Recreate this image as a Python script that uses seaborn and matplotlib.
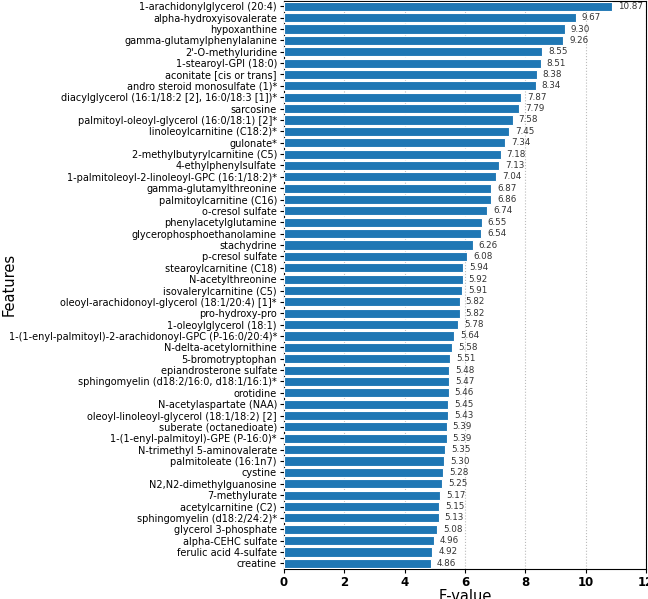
import matplotlib
matplotlib.use("Agg")
import matplotlib.pyplot as plt
import seaborn as sns
import pandas as pd

features = [
    "1-arachidonylglycerol (20:4)",
    "alpha-hydroxyisovalerate",
    "hypoxanthine",
    "gamma-glutamylphenylalanine",
    "2'-O-methyluridine",
    "1-stearoyl-GPI (18:0)",
    "aconitate [cis or trans]",
    "andro steroid monosulfate (1)*",
    "diacylglycerol (16:1/18:2 [2], 16:0/18:3 [1])*",
    "sarcosine",
    "palmitoyl-oleoyl-glycerol (16:0/18:1) [2]*",
    "linoleoylcarnitine (C18:2)*",
    "gulonate*",
    "2-methylbutyrylcarnitine (C5)",
    "4-ethylphenylsulfate",
    "1-palmitoleoyl-2-linoleoyl-GPC (16:1/18:2)*",
    "gamma-glutamylthreonine",
    "palmitoylcarnitine (C16)",
    "o-cresol sulfate",
    "phenylacetylglutamine",
    "glycerophosphoethanolamine",
    "stachydrine",
    "p-cresol sulfate",
    "stearoylcarnitine (C18)",
    "N-acetylthreonine",
    "isovalerylcarnitine (C5)",
    "oleoyl-arachidonoyl-glycerol (18:1/20:4) [1]*",
    "pro-hydroxy-pro",
    "1-oleoylglycerol (18:1)",
    "1-(1-enyl-palmitoyl)-2-arachidonoyl-GPC (P-16:0/20:4)*",
    "N-delta-acetylornithine",
    "5-bromotryptophan",
    "epiandrosterone sulfate",
    "sphingomyelin (d18:2/16:0, d18:1/16:1)*",
    "orotidine",
    "N-acetylaspartate (NAA)",
    "oleoyl-linoleoyl-glycerol (18:1/18:2) [2]",
    "suberate (octanedioate)",
    "1-(1-enyl-palmitoyl)-GPE (P-16:0)*",
    "N-trimethyl 5-aminovalerate",
    "palmitoleate (16:1n7)",
    "cystine",
    "N2,N2-dimethylguanosine",
    "7-methylurate",
    "acetylcarnitine (C2)",
    "sphingomyelin (d18:2/24:2)*",
    "glycerol 3-phosphate",
    "alpha-CEHC sulfate",
    "ferulic acid 4-sulfate",
    "creatine",
]

f_values = [
    10.87, 9.67, 9.30, 9.26, 8.55, 8.51, 8.38, 8.34, 7.87, 7.79,
    7.58, 7.45, 7.34, 7.18, 7.13, 7.04, 6.87, 6.86, 6.74, 6.55,
    6.54, 6.26, 6.08, 5.94, 5.92, 5.91, 5.82, 5.82, 5.78, 5.64,
    5.58, 5.51, 5.48, 5.47, 5.46, 5.45, 5.43, 5.39, 5.39, 5.35,
    5.30, 5.28, 5.25, 5.17, 5.15, 5.13, 5.08, 4.96, 4.92, 4.86,
]

x_ticks = [0, 2, 4, 6, 8, 10, 12]

df = pd.DataFrame({"Features": features, "F-value": f_values})

fig = plt.figure(figsize=(6.48, 5.99), dpi=100)
ax = fig.add_axes([0.438, 0.050, 0.559, 0.949])

sns.barplot(data=df, x="F-value", y="Features", color="#1f77b4",
            saturation=1, edgecolor="white", linewidth=0.8, ax=ax, zorder=3)

for i, v in enumerate(f_values):
    ax.text(v + 0.2, i, f"{v:.2f}", va="center", ha="left",
            fontsize=6.3, color="#333333", zorder=4)

ax.set_xlim(0, 12)
ax.set_xticks(x_ticks)
ax.set_xticklabels([str(t) for t in x_ticks], fontsize=8.5, fontweight="bold")
ax.tick_params(axis="y", labelsize=7.0, length=3, pad=2)
ax.tick_params(axis="x", length=3, pad=2)
ax.grid(axis="x", linestyle=":", color="#bbbbbb", linewidth=0.8, zorder=0)
ax.set_axisbelow(True)
ax.set_xlabel("F-value", fontsize=10.5, labelpad=0)
ax.set_ylabel("Features", fontsize=10.5)
ax.yaxis.set_label_coords(-0.738, 0.5)

fig.savefig("out.png", dpi=100)
